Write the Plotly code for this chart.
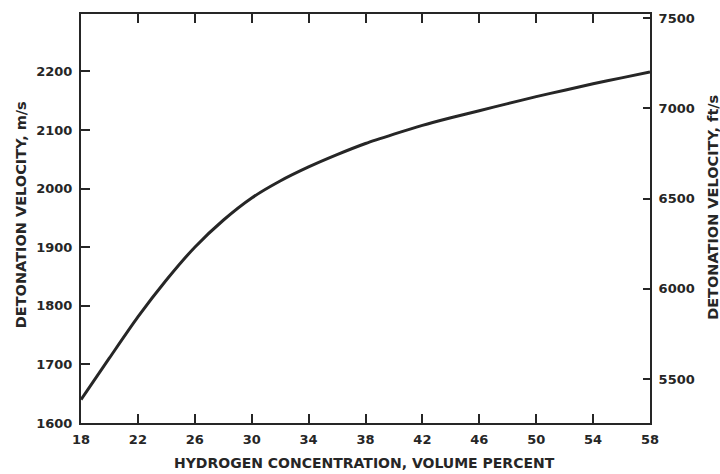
import plotly.graph_objects as go

# Detonation velocity of hydrogen-air mixtures vs. hydrogen concentration
h2_percent = [18, 20, 22, 24, 26, 28, 30, 32, 34, 36, 38, 40, 42, 44, 46, 48, 50, 52, 54, 56, 58]
velocity_ms = [1640, 1711, 1781, 1844, 1900, 1946, 1984, 2013, 2037, 2058, 2077, 2093,
               2108, 2121, 2133, 2145, 2157, 2168, 2179, 2189, 2199]

x_ticks = list(range(18, 59, 4))
left_ticks = [1600, 1700, 1800, 1900, 2000, 2100, 2200]
right_ticks = [5500, 6000, 6500, 7000, 7500]

ink = "#262626"
font = dict(family="DejaVu Sans", size=13, color=ink, weight="bold")
x_title_font = dict(family="DejaVu Sans", size=14, color=ink, weight="bold")
y_title_font = dict(family="DejaVu Sans", size=14.5, color=ink, weight="bold")

fig = go.Figure()
fig.add_trace(go.Scatter(
    x=h2_percent, y=velocity_ms, mode="lines",
    line=dict(color=ink, width=3, shape="spline", smoothing=0.6),
    showlegend=False, hoverinfo="skip",
))
# invisible companion trace so the ft/s axis is drawn
fig.add_trace(go.Scatter(
    x=[h2_percent[0]], y=[right_ticks[0]], yaxis="y2", mode="markers",
    marker=dict(opacity=0), showlegend=False, hoverinfo="skip",
))

fig.update_layout(
    width=720, height=474,
    margin=dict(l=81, r=70, t=11, b=51),
    paper_bgcolor="white", plot_bgcolor="white",
    font=font,
    xaxis=dict(
        range=[18, 58], tickvals=x_ticks, ticktext=[str(v) for v in x_ticks],
        showgrid=False, zeroline=False, showline=True, linecolor=ink, linewidth=2,
        mirror="ticks", ticks="inside", ticklen=9, tickwidth=1.6, tickcolor=ink,
        ticklabelstandoff=3, tickfont=font,
    ),
    yaxis=dict(
        range=[1600, 2298], tickvals=left_ticks,
        showgrid=False, zeroline=False, showline=True, linecolor=ink, linewidth=2,
        ticks="inside", ticklen=9, tickwidth=1.6, tickcolor=ink,
        ticklabelstandoff=4, tickfont=font,
    ),
    yaxis2=dict(
        range=[5257, 7522], tickvals=right_ticks, overlaying="y", side="right",
        showgrid=False, zeroline=False, showline=True, linecolor=ink, linewidth=2,
        ticks="inside", ticklen=7, tickwidth=1.6, tickcolor=ink,
        ticklabelstandoff=4, tickfont=font,
    ),
    annotations=[
        dict(text="HYDROGEN CONCENTRATION, VOLUME PERCENT", xref="paper", yref="paper",
             x=0.499, y=0, yshift=-40, yanchor="middle", xanchor="center",
             showarrow=False, font=x_title_font),
        dict(text="DETONATION VELOCITY, m/s", xref="paper", yref="paper",
             x=0, xshift=-60, y=0.508, xanchor="center", yanchor="middle", textangle=-90,
             showarrow=False, font=y_title_font),
        dict(text="DETONATION VELOCITY, ft/s", xref="paper", yref="paper",
             x=1, xshift=63, y=0.526, xanchor="center", yanchor="middle", textangle=-90,
             showarrow=False, font=y_title_font),
    ],
)

fig.write_html("out.html")
